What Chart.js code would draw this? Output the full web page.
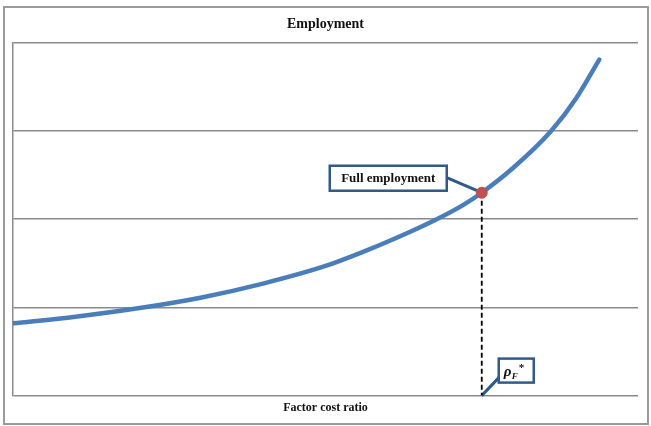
<!DOCTYPE html>
<html>
<head>
<meta charset="utf-8">
<script src="https://cdn.jsdelivr.net/npm/chart.js@4"></script>
<style>
  html, body { margin: 0; padding: 0; background: #ffffff; }
  #wrap { width: 651px; height: 426px; }
</style>
</head>
<body>
<div id="wrap"><canvas id="employmentChart" width="651" height="426"></canvas></div>
<script>
// 曲線數據（x：要素成本比，y：就業）
const costRatio = [0, 10, 20, 30, 40, 50, 56, 61.4, 67.8, 72, 75, 80, 86.1, 90, 93.8];
const employment = [0.82, 0.895, 0.99, 1.11, 1.27, 1.47, 1.63, 1.79, 2.0, 2.16, 2.3, 2.58, 3.0, 3.36, 3.81];

// 充分就業點
const fullEmpX = 75;
const fullEmpY = 2.3;

const yTicks = [0, 1, 2, 3, 4];

const serif = "'Liberation Serif', 'Times New Roman', serif";
const boxBlue = '#2F5B8C';

// 外框
const frame = {
    id: 'frame',
    beforeDraw(chart) {
        const ctx = chart.ctx;
        ctx.save();
        ctx.fillStyle = '#ffffff';
        ctx.fillRect(0, 0, chart.width, chart.height);
        ctx.strokeStyle = '#9a9a9a';
        ctx.lineWidth = 2;
        ctx.strokeRect(4, 7, 644, 417);
        ctx.restore();
    }
};

// 標註框
function labelBox(ctx, x, y, w, h) {
    ctx.fillStyle = '#ffffff';
    ctx.fillRect(x, y, w, h);
    ctx.strokeStyle = boxBlue;
    ctx.lineWidth = 2.5;
    ctx.strokeRect(x, y, w, h);
}

const callouts = {
    id: 'callouts',
    beforeDatasetsDraw(chart) {
        const ctx = chart.ctx;
        const px = chart.scales.x.getPixelForValue(fullEmpX);
        const py = chart.scales.y.getPixelForValue(fullEmpY);
        const base = chart.scales.y.getPixelForValue(0);
        ctx.save();

        // Full employment
        ctx.strokeStyle = boxBlue;
        ctx.lineWidth = 3;
        ctx.beginPath();
        ctx.moveTo(px - 35, py - 15);
        ctx.lineTo(px, py);
        ctx.stroke();
        labelBox(ctx, px - 152, py - 27, 117, 25);
        ctx.fillStyle = '#111111';
        ctx.font = `bold 13px ${serif}`;
        ctx.textAlign = 'center';
        ctx.textBaseline = 'middle';
        ctx.fillText('Full employment', px - 93.5, py - 14);

        // rho_F*
        ctx.strokeStyle = boxBlue;
        ctx.lineWidth = 3;
        ctx.beginPath();
        ctx.moveTo(px, base);
        ctx.lineTo(px + 19, base - 20);
        ctx.stroke();
        labelBox(ctx, px + 17, base - 37, 35, 24);
        ctx.fillStyle = '#111111';
        ctx.textAlign = 'left';
        ctx.textBaseline = 'alphabetic';
        ctx.font = `italic bold 15px ${serif}`;
        ctx.fillText('\u03C1', px + 22, base - 20);
        ctx.font = `italic bold 9px ${serif}`;
        ctx.fillText('F', px + 30, base - 17);
        ctx.font = `bold 11px ${serif}`;
        ctx.fillText('*', px + 37, base - 25);
        ctx.restore();
    }
};

new Chart(document.getElementById('employmentChart'), {
    type: 'line',
    data: {
        datasets: [
            {
                label: 'Full employment',
                data: [{ x: fullEmpX, y: fullEmpY }],
                pointRadius: 5.5,
                pointBackgroundColor: '#C0504D',
                pointBorderColor: '#C0504D',
                showLine: false
            },
            {
                label: 'Employment',
                data: costRatio.map((x, i) => ({ x: x, y: employment[i] })),
                borderColor: '#4A7EBB',
                borderWidth: 4.5,
                borderCapStyle: 'round',
                cubicInterpolationMode: 'monotone',
                pointRadius: 0,
                fill: false
            },
            {
                label: 'drop',
                data: [{ x: fullEmpX, y: fullEmpY }, { x: fullEmpX, y: 0 }],
                borderColor: '#000000',
                borderWidth: 1.8,
                borderDash: [5, 3],
                pointRadius: 0,
                fill: false
            }
        ]
    },
    options: {
        responsive: false,
        animation: false,
        layout: { padding: { left: 13, right: 13, top: 8, bottom: 7 } },
        plugins: {
            legend: { display: false },
            tooltip: { enabled: false },
            title: {
                display: true,
                text: 'Employment',
                color: '#111111',
                font: { family: serif, size: 14, weight: 'bold' },
                padding: { top: 8, bottom: 10 }
            }
        },
        scales: {
            x: {
                type: 'linear',
                min: 0,
                max: 100,
                grid: { display: false, drawTicks: false },
                border: { display: false },
                ticks: { display: false },
                title: {
                    display: true,
                    text: 'Factor cost ratio',
                    color: '#111111',
                    font: { family: serif, size: 12, weight: 'bold' },
                    padding: { top: 5, bottom: 4 }
                }
            },
            y: {
                min: yTicks[0],
                max: yTicks[yTicks.length - 1],
                afterBuildTicks(axis) {
                    axis.ticks = yTicks.map(v => ({ value: v }));
                },
                grid: { color: '#8a8a8a', lineWidth: 1.5, drawTicks: false },
                border: { display: true, color: '#8a8a8a', width: 1.5 },
                ticks: { display: false }
            }
        }
    },
    plugins: [frame, callouts]
});
</script>
</body>
</html>
